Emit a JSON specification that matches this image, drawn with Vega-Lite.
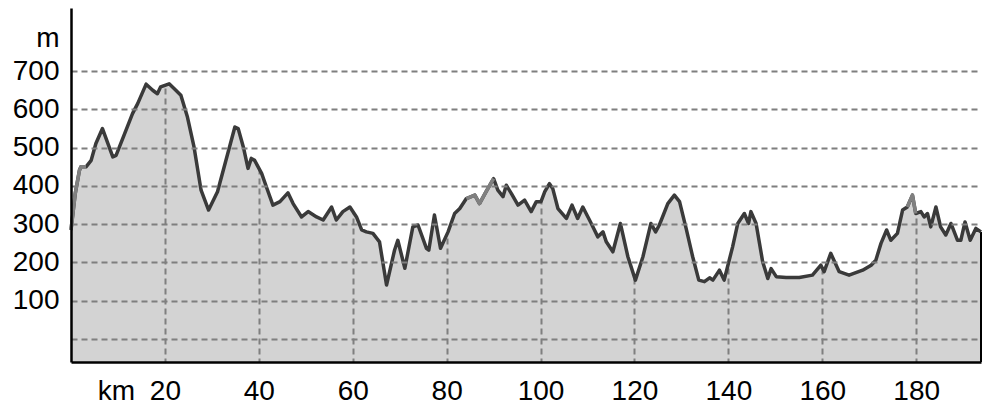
{
  "$schema": "https://vega.github.io/schema/vega-lite/v6.json",
  "width": 910,
  "height": 354,
  "autosize": {"type": "none"},
  "padding": {"left": 71, "top": 8, "right": 7, "bottom": 44},
  "background": "white",
  "config": {"view": {"stroke": null, "fill": "#d3d3d3"}, "font": "Liberation Sans"},
  "data": {"values": [
    {"km": 0, "elev": 285}, {"km": 0.9, "elev": 380}, {"km": 1.8, "elev": 441}, {"km": 2.1, "elev": 450},
    {"km": 3.2, "elev": 450}, {"km": 4.3, "elev": 467}, {"km": 5.3, "elev": 511}, {"km": 6.7, "elev": 550},
    {"km": 8.9, "elev": 476}, {"km": 9.6, "elev": 480}, {"km": 11.3, "elev": 533}, {"km": 13.1, "elev": 589},
    {"km": 14.2, "elev": 615}, {"km": 16.0, "elev": 666}, {"km": 17.4, "elev": 650}, {"km": 18.4, "elev": 641},
    {"km": 19.1, "elev": 659}, {"km": 20.9, "elev": 667}, {"km": 22.0, "elev": 654}, {"km": 23.4, "elev": 637},
    {"km": 24.8, "elev": 580}, {"km": 26.2, "elev": 502}, {"km": 27.7, "elev": 389}, {"km": 29.3, "elev": 337},
    {"km": 31.2, "elev": 385}, {"km": 33.0, "elev": 467}, {"km": 34.9, "elev": 554}, {"km": 35.6, "elev": 550},
    {"km": 36.7, "elev": 502}, {"km": 37.7, "elev": 446}, {"km": 38.4, "elev": 472}, {"km": 39.1, "elev": 467},
    {"km": 40.6, "elev": 433}, {"km": 41.6, "elev": 398}, {"km": 43.0, "elev": 350}, {"km": 44.5, "elev": 359},
    {"km": 46.2, "elev": 382}, {"km": 47.3, "elev": 354}, {"km": 49.1, "elev": 319}, {"km": 50.5, "elev": 333},
    {"km": 52.3, "elev": 319}, {"km": 53.7, "elev": 311}, {"km": 55.5, "elev": 345}, {"km": 56.5, "elev": 311},
    {"km": 57.9, "elev": 333}, {"km": 59.4, "elev": 345}, {"km": 60.8, "elev": 319}, {"km": 61.9, "elev": 285},
    {"km": 62.9, "elev": 280}, {"km": 64.3, "elev": 276}, {"km": 65.7, "elev": 254}, {"km": 67.2, "elev": 141},
    {"km": 68.9, "elev": 232}, {"km": 69.6, "elev": 258}, {"km": 71.1, "elev": 185}, {"km": 72.8, "elev": 293},
    {"km": 73.9, "elev": 298}, {"km": 75.7, "elev": 237}, {"km": 76.2, "elev": 232}, {"km": 77.4, "elev": 324},
    {"km": 78.7, "elev": 237}, {"km": 80.3, "elev": 280}, {"km": 81.7, "elev": 328}, {"km": 82.8, "elev": 341},
    {"km": 84.2, "elev": 367}, {"km": 86.0, "elev": 376}, {"km": 87.0, "elev": 354}, {"km": 88.4, "elev": 385},
    {"km": 90.0, "elev": 419}, {"km": 90.9, "elev": 389}, {"km": 92.0, "elev": 372}, {"km": 92.7, "elev": 402},
    {"km": 93.8, "elev": 380}, {"km": 95.2, "elev": 350}, {"km": 96.6, "elev": 363}, {"km": 98.0, "elev": 333},
    {"km": 99.1, "elev": 359}, {"km": 100.1, "elev": 359}, {"km": 100.9, "elev": 385}, {"km": 101.9, "elev": 406},
    {"km": 102.6, "elev": 393}, {"km": 103.7, "elev": 341}, {"km": 105.5, "elev": 315}, {"km": 106.7, "elev": 350},
    {"km": 107.9, "elev": 315}, {"km": 109.0, "elev": 345}, {"km": 110.8, "elev": 302}, {"km": 112.2, "elev": 267},
    {"km": 113.3, "elev": 280}, {"km": 114.0, "elev": 254}, {"km": 115.4, "elev": 228}, {"km": 117.0, "elev": 302},
    {"km": 118.6, "elev": 215}, {"km": 120.2, "elev": 154}, {"km": 121.8, "elev": 215}, {"km": 123.5, "elev": 302},
    {"km": 124.5, "elev": 280}, {"km": 125.3, "elev": 298}, {"km": 127.1, "elev": 354}, {"km": 128.5, "elev": 376},
    {"km": 129.6, "elev": 359}, {"km": 131.0, "elev": 289}, {"km": 132.4, "elev": 215}, {"km": 133.7, "elev": 154},
    {"km": 134.9, "elev": 150}, {"km": 136.0, "elev": 160}, {"km": 136.7, "elev": 154}, {"km": 138.1, "elev": 180},
    {"km": 139.1, "elev": 154}, {"km": 140.9, "elev": 241}, {"km": 142.0, "elev": 302}, {"km": 143.4, "elev": 328},
    {"km": 144.3, "elev": 302}, {"km": 144.8, "elev": 333}, {"km": 145.9, "elev": 302}, {"km": 147.3, "elev": 202},
    {"km": 148.4, "elev": 158}, {"km": 149.1, "elev": 184}, {"km": 150.2, "elev": 163}, {"km": 152.3, "elev": 161},
    {"km": 155.1, "elev": 161}, {"km": 157.9, "elev": 167}, {"km": 159.7, "elev": 193}, {"km": 160.4, "elev": 176},
    {"km": 161.8, "elev": 224}, {"km": 163.6, "elev": 176}, {"km": 165.7, "elev": 167}, {"km": 168.6, "elev": 180},
    {"km": 170.4, "elev": 193}, {"km": 171.4, "elev": 206}, {"km": 172.5, "elev": 250}, {"km": 173.7, "elev": 285},
    {"km": 174.6, "elev": 258}, {"km": 176.0, "elev": 276}, {"km": 177.1, "elev": 337}, {"km": 178.1, "elev": 345},
    {"km": 179.2, "elev": 376}, {"km": 179.9, "elev": 328}, {"km": 181.0, "elev": 333}, {"km": 181.7, "elev": 319},
    {"km": 182.4, "elev": 328}, {"km": 183.1, "elev": 293}, {"km": 184.2, "elev": 345}, {"km": 185.2, "elev": 293},
    {"km": 186.3, "elev": 272}, {"km": 187.4, "elev": 302}, {"km": 188.8, "elev": 258}, {"km": 189.5, "elev": 258},
    {"km": 190.4, "elev": 306}, {"km": 191.5, "elev": 258}, {"km": 192.7, "elev": 289}, {"km": 193.8, "elev": 280}
  ]},
  "encoding": {
    "x": {
      "field": "km", "type": "quantitative",
      "scale": {"domain": [0, 193.8], "nice": false, "zero": false},
      "axis": {
        "values": [20, 40, 60, 80, 100, 120, 140, 160, 180],
        "title": "km", "titleX": 45, "titleY": 37, "titleAlign": "center", "titleBaseline": "alphabetic",
        "titleFontSize": 28, "titleFontWeight": "normal", "titleColor": "black",
        "labelFontSize": 28, "labelColor": "black", "labelPadding": 15, "labelFlush": false,
        "ticks": false, "domainColor": "black", "domainWidth": 2.5,
        "grid": true, "gridColor": "#7f7f7f", "gridDash": [6, 4], "gridWidth": 2, "zindex": 0
      }
    },
    "y": {
      "field": "elev", "type": "quantitative",
      "scale": {"domain": [-60, 865], "nice": false, "zero": false},
      "axis": {
        "values": [0, 100, 200, 300, 400, 500, 600, 700],
        "labelExpr": "datum.value == 0 ? '' : datum.label",
        "title": "m", "titleAngle": 0, "titleX": -12, "titleY": 38.5, "titleAlign": "right", "titleBaseline": "alphabetic",
        "titleFontSize": 28, "titleFontWeight": "normal", "titleColor": "black",
        "labelFontSize": 28, "labelColor": "black", "labelPadding": 12, "labelFlush": false,
        "ticks": false, "domainColor": "black", "domainWidth": 2.5,
        "grid": true, "gridColor": "#7f7f7f", "gridDash": [6, 4], "gridWidth": 2, "zindex": 1
      }
    }
  },
  "layer": [
    {"mark": {"type": "area", "color": "white"}, "encoding": {"y2": {"datum": 865}}},
    {"transform": [{"filter": "datum.km >= 193.8"}], "mark": {"type": "rule", "color": "black", "strokeWidth": 2}, "encoding": {"y2": {"datum": -60}}},
    {"mark": {"type": "line", "color": "#3a3a3a", "strokeWidth": 3.5, "strokeJoin": "round"}},
    {"transform": [{"filter": "datum.km <= 3.2"}], "mark": {"type": "line", "color": "#808080", "strokeWidth": 3.5, "strokeJoin": "round"}},
    {"transform": [{"filter": "datum.km >= 84.2 && datum.km <= 90"}], "mark": {"type": "line", "color": "#808080", "strokeWidth": 3.5, "strokeJoin": "round"}},
    {"transform": [{"filter": "datum.km >= 178.1 && datum.km <= 179.9"}], "mark": {"type": "line", "color": "#808080", "strokeWidth": 3.5, "strokeJoin": "round"}}
  ]
}
